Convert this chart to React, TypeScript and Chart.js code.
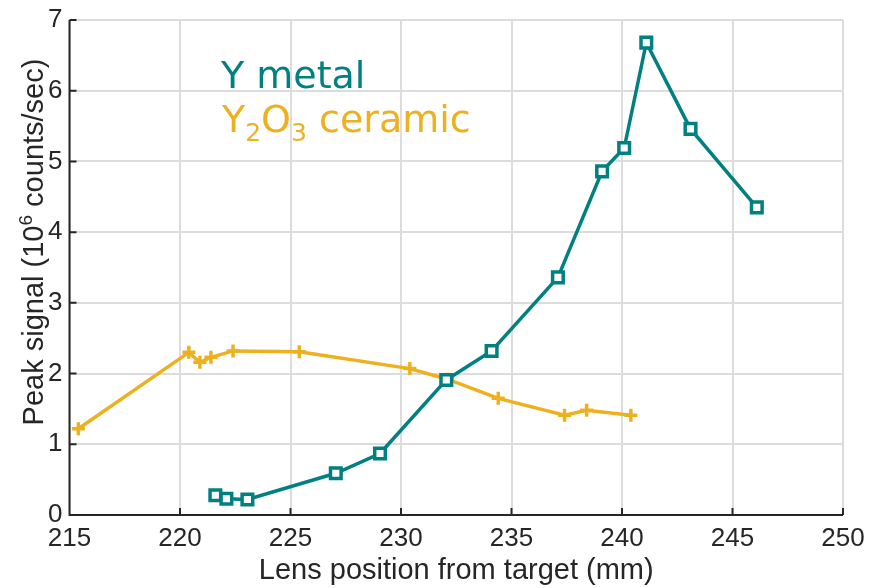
import React, { useEffect, useRef } from "react";
import { Chart, registerables } from "chart.js";

Chart.register(...registerables);

// Lens position (mm) and peak signal (10^6 counts/sec) for each sample
const yMetalPos = [221.6, 222.1, 223.05, 227.05, 229.05, 232.05, 234.1, 237.1, 239.1, 240.1, 241.1, 243.1, 246.1];
const yMetalSignal = [0.28, 0.23, 0.22, 0.59, 0.87, 1.91, 2.32, 3.36, 4.86, 5.19, 6.68, 5.46, 4.35];

const y2o3Pos = [215.4, 220.4, 220.9, 221.4, 222.4, 225.4, 230.4, 232.1, 234.4, 237.4, 238.4, 240.4];
const y2o3Signal = [1.22, 2.3, 2.16, 2.23, 2.32, 2.31, 2.07, 1.92, 1.65, 1.41, 1.48, 1.41];

const xTicks = [215, 220, 225, 230, 235, 240, 245, 250];
const yTicks = [0, 1, 2, 3, 4, 5, 6, 7];

const TEAL = "rgb(0,128,128)";
const GOLD = "rgb(237,177,32)";
const AXIS = "#262626";
const SANS = '"Liberation Sans", Arial, Helvetica, sans-serif';
const DEJAVU = '"DejaVu Sans", Verdana, sans-serif';

const toPoints = (xs: number[], ys: number[]) => xs.map((x, i) => ({ x, y: ys[i] }));

// Axis lines with inward tick marks, axis titles and the in-plot labels
const decorations = {
  id: "decorations",
  afterDatasetsDraw(chart: any) {
    const { ctx, chartArea, scales } = chart;
    const { left, right, top, bottom } = chartArea;
    const xs = scales.x;
    const ys = scales.y;
    ctx.save();
    ctx.strokeStyle = AXIS;
    ctx.lineWidth = 2;
    ctx.beginPath();
    ctx.moveTo(left, top);
    ctx.lineTo(left, bottom);
    ctx.lineTo(right, bottom);
    for (const t of xTicks) {
      const px = xs.getPixelForValue(t);
      ctx.moveTo(px, bottom);
      ctx.lineTo(px, bottom - 7);
    }
    for (const t of yTicks) {
      const py = ys.getPixelForValue(t);
      ctx.moveTo(left, py);
      ctx.lineTo(left + 7, py);
    }
    ctx.stroke();

    // x title
    ctx.fillStyle = AXIS;
    ctx.font = `29px ${SANS}`;
    ctx.textAlign = "center";
    ctx.textBaseline = "alphabetic";
    ctx.fillText("Lens position from target (mm)", (left + right) / 2, 579);

    // y title with superscript exponent
    const partA = "Peak signal (10";
    const partB = "6";
    const partC = " counts/sec)";
    ctx.font = `29px ${SANS}`;
    const wA = ctx.measureText(partA).width;
    const wC = ctx.measureText(partC).width;
    ctx.font = `19px ${SANS}`;
    const wB = ctx.measureText(partB).width;
    const total = wA + wB + wC;
    ctx.translate(33, 242);
    ctx.rotate(-Math.PI / 2);
    ctx.textAlign = "left";
    ctx.textBaseline = "alphabetic";
    let cx = -total / 2;
    const base = 10;
    ctx.font = `29px ${SANS}`;
    ctx.fillText(partA, cx, base);
    cx += wA;
    ctx.font = `19px ${SANS}`;
    ctx.fillText(partB, cx, base - 11);
    cx += wB;
    ctx.font = `29px ${SANS}`;
    ctx.fillText(partC, cx, base);
    ctx.setTransform(1, 0, 0, 1, 0, 0);

    // in-plot series labels
    ctx.textAlign = "left";
    ctx.textBaseline = "alphabetic";
    ctx.font = `38px ${DEJAVU}`;
    ctx.fillStyle = TEAL;
    ctx.fillText("Y metal", 221, 88);

    ctx.fillStyle = GOLD;
    let lx = 222;
    const lb = 131.5;
    const runs: [string, boolean][] = [["Y", false], ["2", true], ["O", false], ["3", true], [" ceramic", false]];
    for (const [txt, sub] of runs) {
      ctx.font = sub ? `25px ${DEJAVU}` : `38px ${DEJAVU}`;
      ctx.fillText(txt, lx, sub ? lb + 9 : lb);
      lx += ctx.measureText(txt).width;
    }
    ctx.restore();
  },
};

export default function App() {
  const canvasRef = useRef<HTMLCanvasElement | null>(null);

  useEffect(() => {
    document.body.style.margin = "0";
    const canvas = canvasRef.current;
    if (!canvas) return;
    const chart = new Chart(canvas, {
      type: "line",
      data: {
        datasets: [
          {
            label: "Y metal",
            data: toPoints(yMetalPos, yMetalSignal),
            borderColor: TEAL,
            backgroundColor: "#ffffff",
            borderWidth: 3.5,
            pointStyle: "rect",
            pointRadius: 7.5,
            pointBorderWidth: 3.5,
            pointBorderColor: TEAL,
            pointBackgroundColor: "#ffffff",
            tension: 0,
          },
          {
            label: "Y2O3 ceramic",
            data: toPoints(y2o3Pos, y2o3Signal),
            borderColor: GOLD,
            backgroundColor: GOLD,
            borderWidth: 3.5,
            pointStyle: "cross",
            pointRadius: 6.5,
            pointBorderWidth: 3.5,
            pointBorderColor: GOLD,
            tension: 0,
          },
        ],
      },
      options: {
        animation: false,
        responsive: false,
        devicePixelRatio: 1,
        layout: { padding: { top: 20, right: 27, left: 0, bottom: 0 } },
        plugins: {
          legend: { display: false },
          tooltip: { enabled: false },
        },
        scales: {
          x: {
            type: "linear",
            min: 215,
            max: 250,
            afterBuildTicks: (scale: any) => {
              scale.ticks = xTicks.map((v) => ({ value: v }));
            },
            afterFit: (scale: any) => {
              scale.height = 73;
              scale.paddingLeft = 0;
              scale.paddingRight = 0;
            },
            grid: { color: "#dcdcdc", lineWidth: 2, drawTicks: false },
            border: { display: false },
            ticks: {
              padding: 8,
              color: AXIS,
              font: { family: SANS, size: 26 },
              maxRotation: 0,
            },
          },
          y: {
            type: "linear",
            min: 0,
            max: 7,
            afterBuildTicks: (scale: any) => {
              scale.ticks = yTicks.map((v) => ({ value: v }));
            },
            afterFit: (scale: any) => {
              scale.width = 69.5;
              scale.paddingTop = 0;
              scale.paddingBottom = 0;
            },
            grid: { color: "#dcdcdc", lineWidth: 2, drawTicks: false },
            border: { display: false },
            ticks: {
              padding: 7,
              color: AXIS,
              font: { family: SANS, size: 26 },
            },
          },
        },
      },
      plugins: [decorations],
    });
    return () => chart.destroy();
  }, []);

  return (
    <div style={{ width: 870, height: 588, background: "#ffffff" }}>
      <canvas ref={canvasRef} width={870} height={588} />
    </div>
  );
}
